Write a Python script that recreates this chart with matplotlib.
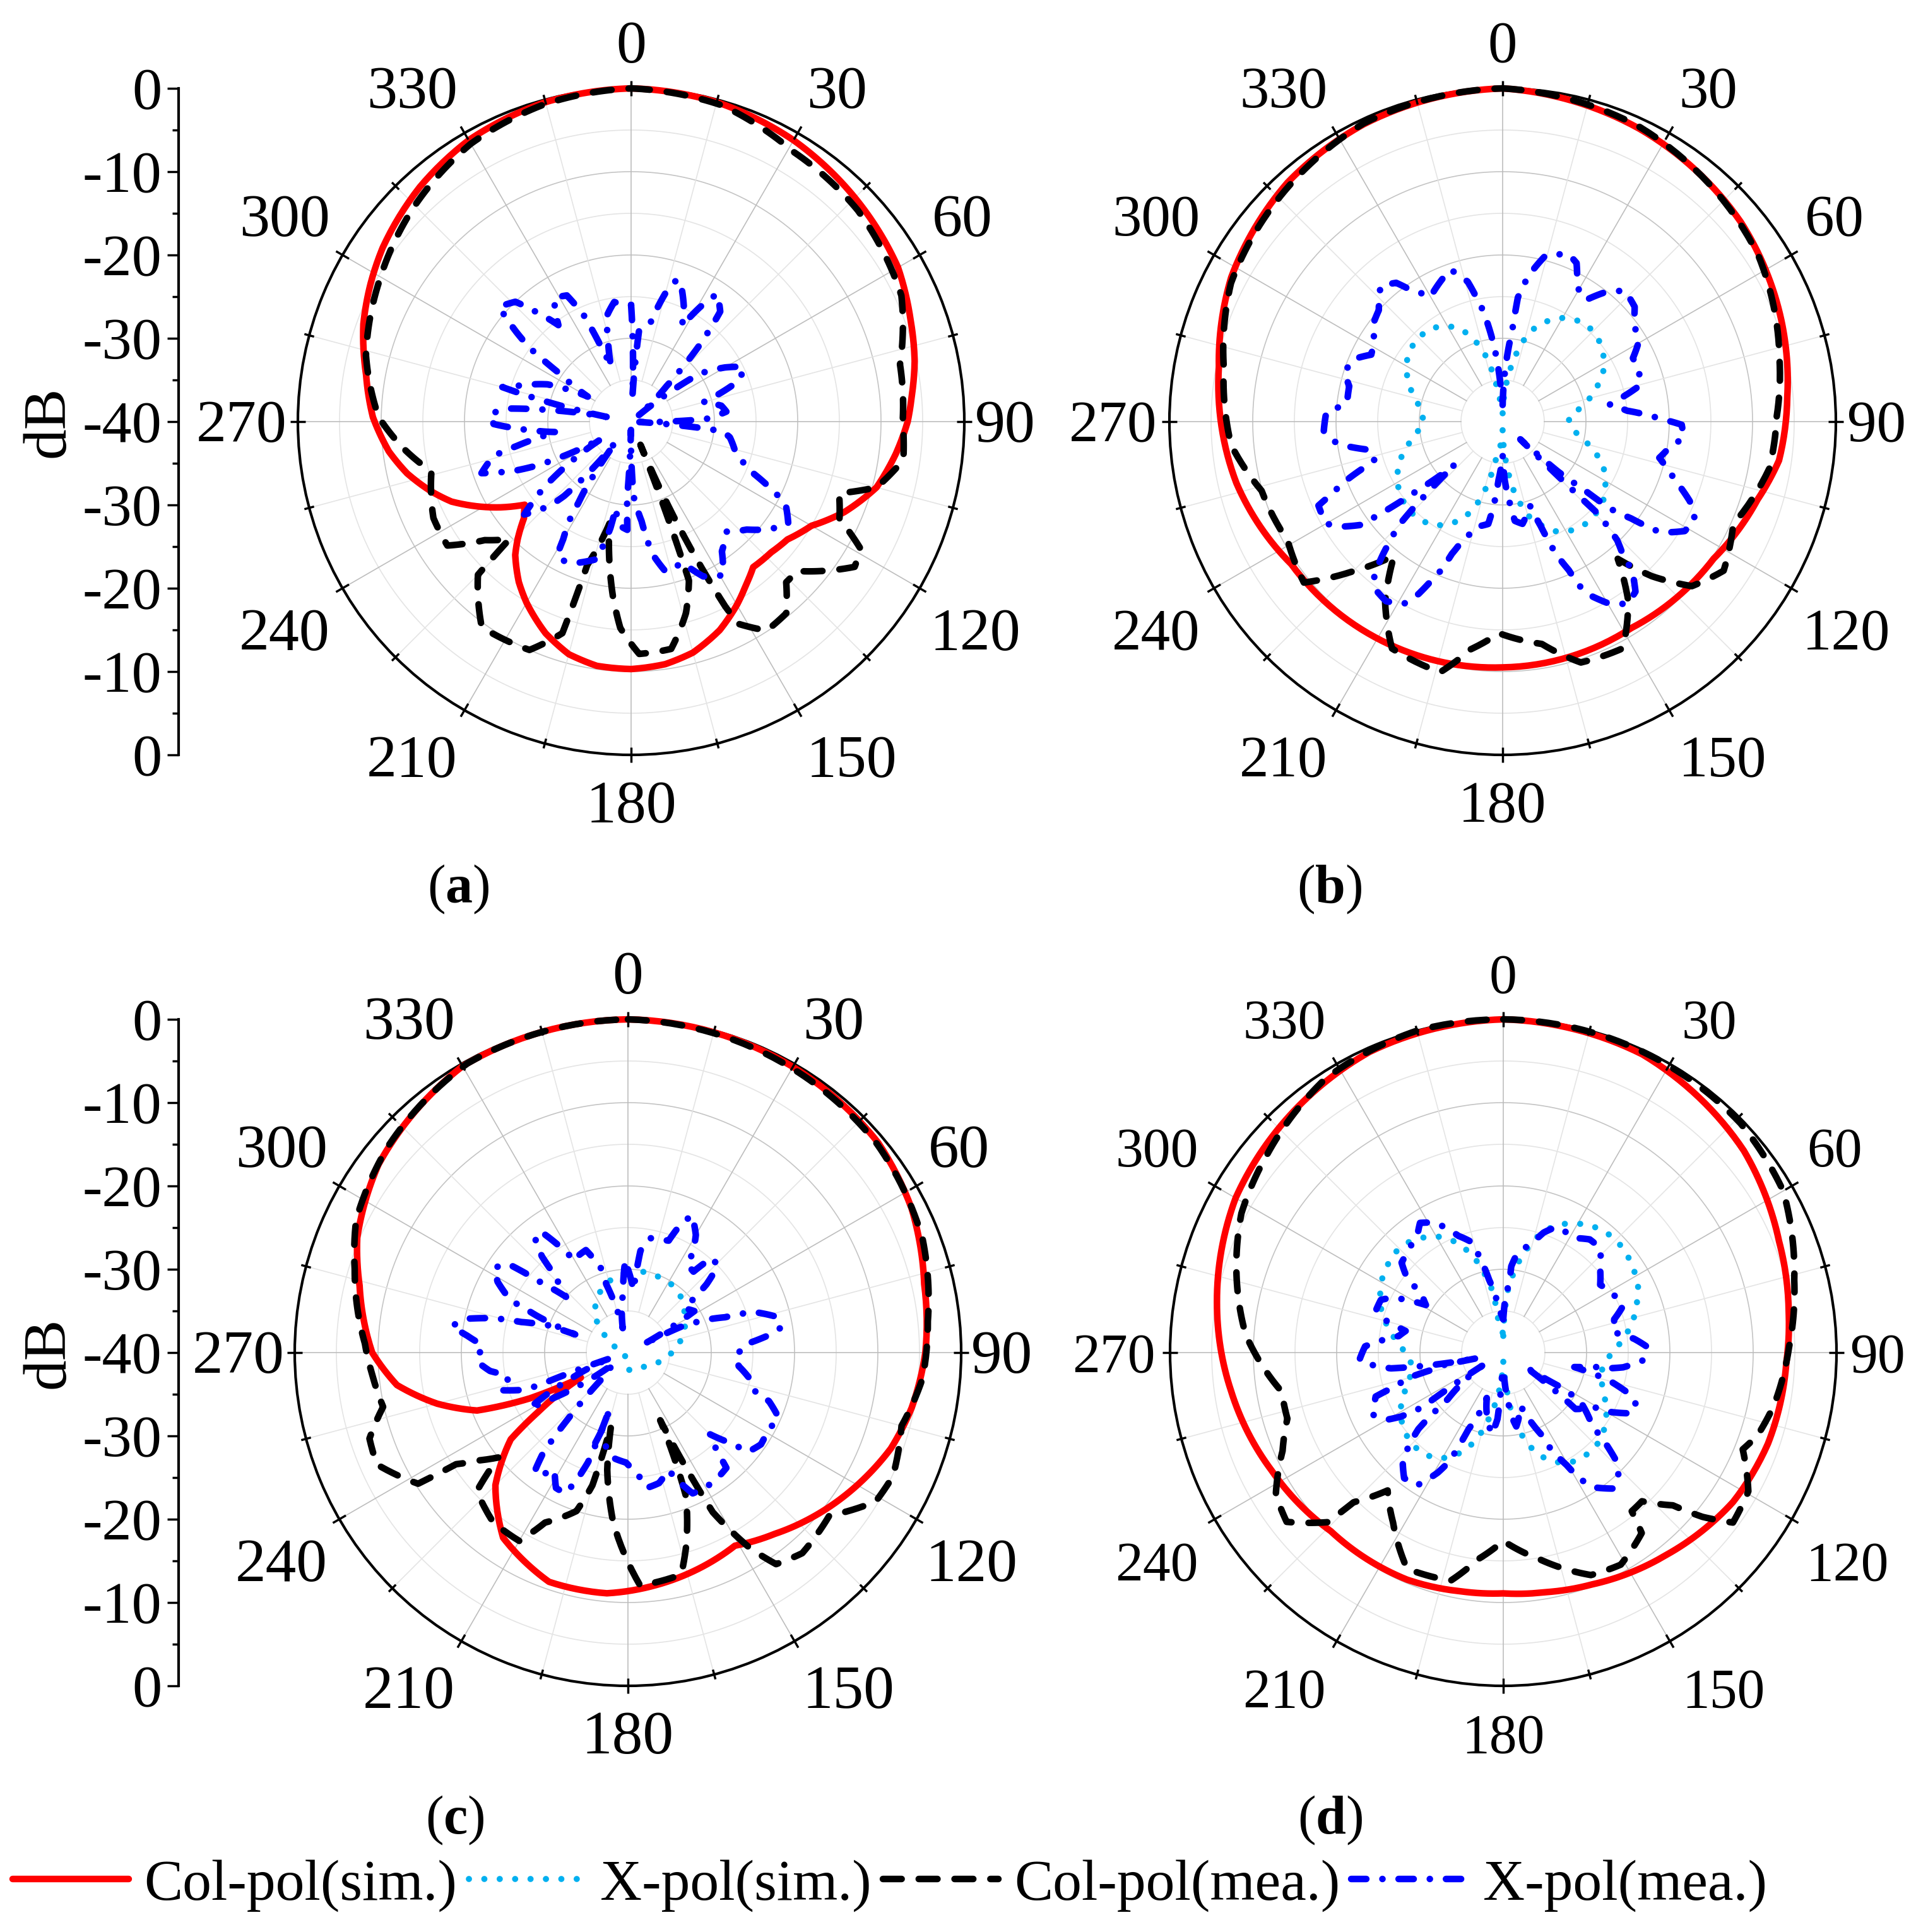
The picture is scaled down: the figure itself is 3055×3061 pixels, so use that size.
import numpy as np
import matplotlib
matplotlib.use("Agg")
import matplotlib.pyplot as plt
from matplotlib.lines import Line2D

plt.rcParams['font.family'] = ['Liberation Serif', 'DejaVu Serif']
plt.rcParams['mathtext.fontset'] = 'custom'
plt.rcParams['mathtext.rm'] = 'Liberation Serif'
plt.rcParams['mathtext.bf'] = 'Liberation Serif:bold'

# Figure geometry (pixels)
W, H, DPI = 3055, 3061, 100
R = 528  # polar radius in px

# ---- data: (angle in degrees, level in dB) ----
# panel (a)
A_COL_SIM = [(0, 0), (15, -0.3), (30, -1), (45, -2), (60, -3), (70, -4.3), (78, -5.2), (85, -6.2),
             (90, -6.8), (97, -8), (105, -9.5), (113, -12.2), (120, -15), (127, -16.5), (133, -17),
             (140, -17.2), (145, -16), (150, -14.6), (157, -12.8), (165, -11.3), (172, -10.6),
             (180, -10.3), (188, -10.4), (195, -11.1), (202, -12.6), (210, -14.9), (215, -16.5),
             (221, -18.8), (224, -20.4), (228, -22.7), (232, -23.8), (237, -21.1), (241, -19),
             (246, -16.4), (251, -14.5), (257, -12.4), (263, -10.7), (271, -9), (280, -7.7),
             (290, -5.8), (298, -4.6), (305, -3.6), (318, -2.1), (330, -1), (345, -0.3), (360, 0)]
A_COL_MEA = [(0, 0), (16, -0.5), (31, -2.2), (47, -2.8), (65, -4.2), (78, -7), (90, -7.4), (98, -7),
             (105, -9.5), (109, -13.6), (115, -12.4), (119, -8.5), (123, -8), (127, -10.3),
             (132, -13.2), (136, -13.2), (141, -10.4), (147, -10.1), (152, -12.5), (153, -15.1),
             (158, -37), (160, -19.7), (164, -16.1), (170, -12.3), (178, -12.1), (183, -15.2),
             (186, -19), (192, -27.5), (197, -22), (198, -13.3), (204, -10), (216, -9.5), (225, -14),
             (226, -19.7), (231, -17.4), (236, -13.4), (244, -13.6), (256, -15.3), (263, -12.6),
             (271, -9.7), (284, -7.2), (299, -5.4), (315, -3.3), (330, -1.5), (345, -0.5), (360, 0)]
A_X_MEA = [(0, -26), (3, -37), (5, -29), (11, -28), (15, -24), (18, -22), (21, -23), (25, -25),
           (28, -27), (31, -24), (34, -21.5), (39, -23), (42, -28), (45, -34), (50, -39), (55, -30),
           (60, -27), (64, -25), (69, -26), (75, -31), (80, -29), (84, -28.5), (88, -31), (90, -36),
           (93, -39), (96, -29), (99, -28), (106, -27), (112, -25), (115, -22), (118, -19),
           (123, -17.5), (128, -19), (133, -21), (139, -22.5), (145, -21), (149, -18.5),
           (155, -19.5), (160, -22), (167, -21.5), (171, -24), (174, -28), (178, -31), (181, -39),
           (183, -31), (182, -27), (187, -27.5), (190, -29.5), (191, -27), (194, -23), (200, -22),
           (205, -21.4), (209, -21.7), (210, -23.7), (212, -26), (213, -28.4), (214, -30),
           (217, -37), (222, -28), (224, -26), (229, -23), (233, -27), (240, -36), (245, -27.5),
           (247, -25), (251, -21), (256, -23), (258, -26), (262, -31), (265, -28), (269, -23.5),
           (273, -23), (276, -25), (281, -37), (285, -24), (288, -26), (294, -29), (300, -34),
           (304, -29.5), (306, -25), (308, -22.5), (311, -19), (316, -20), (319, -22.5),
           (323, -25.5), (328, -22.5), (333, -23), (336, -26), (338, -30), (340, -33), (344, -30),
           (347, -27), (352, -25.5), (356, -26), (360, -26)]

# panel (b)
B_COL_SIM = [(0, 0), (25, -1.2), (50, -2.7), (70, -4.4), (85, -5.7), (98, -6.5), (107, -8),
             (123, -9.8), (148, -10.8), (180, -10.5), (207, -10), (236, -9.4), (257, -7.2),
             (281, -5.3), (298, -3.1), (318, -1.4), (335, -0.6), (360, 0)]
B_X_SIM = [(0, -39), (10.5, -32.2), (13.4, -30.5), (17, -28.7), (22.6, -27.1), (28.7, -25.8),
           (35.2, -25), (41.4, -24.6), (49, -24.8), (56.5, -25.5), (63, -26.4), (68.8, -27.7),
           (74.3, -29), (80.6, -30.7), (87.3, -32.1), (97, -31.5), (103, -29.9), (109, -28.1),
           (115, -26.6), (121, -25.6), (127.6, -24.7), (133.8, -24.3), (141, -24.2), (148.4, -24.6),
           (154.3, -25.4), (159.5, -26.7), (164, -28), (168, -30), (171, -31.7), (173.4, -33.6),
           (175.7, -35.5), (180, -39), (191.6, -34.8), (192.3, -32.9), (195, -31.2), (197.7, -29.4),
           (202, -27.5), (207.6, -26.1), (213.9, -25), (220.5, -24.6), (227, -24.5), (234.8, -24.9),
           (241.6, -25.6), (248.2, -26.6), (254, -27.8), (259.7, -29.1), (268, -30.5), (278, -30.3),
           (285.9, -28.9), (293, -27.7), (300, -26.6), (307, -26), (314, -25.7), (322.6, -25.9),
           (329.7, -26.7), (335.7, -27.8), (340, -29.3), (344.4, -31.1), (347.4, -33.1),
           (349.7, -35), (352, -37), (360, -39)]
B_COL_MEA = [(0, 0), (25, -1), (57, -3.4), (77, -5.9), (89, -7.1), (100, -7.5), (114, -9.7),
             (124, -8), (131, -9.9), (136, -14.2), (140, -18.5), (145, -13.7), (152, -9.2),
             (162, -9.6), (170, -12.9), (181, -14.6), (188, -12.4), (194, -9), (206, -9.7),
             (213, -14.1), (219, -19.3), (225, -14.6), (231, -9.3), (241, -10.5), (254, -9.9),
             (265, -7.3), (281, -5.9), (297, -3.4), (318, -1.8), (335, -0.5), (360, 0)]
B_X_MEA = [(0, -38), (4, -32), (6, -29), (7, -25), (10, -22.3), (12, -21), (14.5, -19.4),
           (21.5, -18.4), (25, -19), (27, -20.3), (31, -22.2), (35, -22), (38, -20.4), (43, -18.5),
           (49, -19), (53, -20.3), (60, -21.2), (64, -22.6), (70, -22.6), (75, -22.8), (78, -25),
           (81, -27), (85, -25), (87, -23), (89, -21), (91, -18.5), (95, -18.2), (99, -19.8),
           (103, -20.7), (107, -19), (110, -17.4), (113, -15.6), (117, -14.1), (121, -14.5),
           (125, -16.8), (126, -18.6), (127, -20.7), (129, -23.4), (129.5, -25.4), (130, -27.6),
           (132, -31), (133, -34), (135, -37), (134, -24), (136, -20.2), (138, -18.4), (139, -16.3),
           (142, -14.1), (145.5, -13.5), (149.5, -14.6), (153, -16.5), (155, -18.3), (156, -20.5),
           (158, -22.8), (159, -24.7), (160, -26.7), (162, -29.4), (169, -27.5), (173, -28),
           (175, -30.2), (178, -33), (180, -36), (184, -33), (186, -30), (188, -27.6), (194, -27),
           (199, -24.7), (201, -23), (202.5, -20.7), (204.5, -18.7), (206, -17), (208.5, -15.1),
           (213, -14.3), (217, -14.7), (220, -16), (222, -18.5), (223.5, -20.5), (225, -22.3),
           (226, -25.3), (226.5, -27.3), (228, -32.3), (231, -27), (233, -21.6), (234, -18.9),
           (236.5, -17.2), (240, -15.5), (245.5, -15.7), (247, -17.7), (249, -19.5),
           (251.5, -22.3), (253.5, -24), (258, -23.7), (261, -21.1), (263.5, -19.5), (267, -18.5),
           (273, -18.8), (274, -19.7), (277, -21.2), (283, -21.1), (287.5, -20.1), (293, -20.7),
           (297, -22.3), (302, -21.9), (306.5, -20.6), (312, -20), (318, -18.1), (322.5, -19),
           (325, -20.7), (330, -22.7), (335.5, -21.7), (341, -20.7), (346, -22.7), (348, -24.7),
           (350, -26.5), (352.5, -29.6), (354, -31.6), (357, -36), (360, -38)]

# panel (c)
C_COL_SIM = [(0, 0), (30, -0.4), (50, -0.8), (63, -1.8), (77, -3.5), (90, -4.3), (101, -5.3),
             (110, -6.4), (125, -9.1), (141, -12), (151, -13.5), (162, -12.7), (173, -11.9),
             (185, -11), (199, -10.9), (214, -13.2), (225, -17.5), (233.5, -22.5), (236.5, -27),
             (242, -33.6), (245, -27), (249, -20.6), (255, -16.3), (262, -12), (270, -9.3),
             (284, -6.8), (293, -4.7), (307, -2.5), (330, -0.3), (360, 0)]
C_X_SIM = [(0, -30.3), (13, -30.1), (23, -30.2), (33, -30.3), (44, -30.8), (55, -31.7), (67, -32.6),
           (78, -33.6), (93, -35), (112, -36.5), (133, -37.5), (175, -37.9), (220, -39.5),
           (270, -39.5), (297, -38.1), (308, -36.3), (317, -34.3), (327, -32.9), (338, -31.7),
           (350, -30.8), (360, -30.3)]
C_COL_MEA = [(0, 0), (30, -0.6), (50, -1), (69, -2.1), (84, -3.8), (95, -4.5), (105, -6),
             (115, -4.9), (121, -5.3), (129, -8.9), (139, -8.1), (145, -9), (148, -12.3),
             (152, -18.3), (154.5, -31), (158, -21.4), (163, -16), (166.5, -12.6), (177, -12),
             (185, -19.6), (190, -25.7), (193, -31), (195, -23.5), (198, -20), (206, -17.3),
             (210, -13.9), (218.5, -14), (227.5, -15.4), (231, -20), (234, -18), (237, -15.4),
             (238, -10.3), (246, -7), (251.6, -7.3), (257.5, -9.9), (265, -9.2), (272, -8.4),
             (287, -5.7), (296, -3.7), (311, -2), (331, -0.3), (360, 0)]
C_X_MEA = [(0, -30), (5, -32.5), (7, -27.7), (11, -26), (15, -26), (20, -25.7), (22, -23.7),
           (25, -21.8), (30, -23.7), (33, -25.7), (34, -27.3), (39, -27.5), (41.5, -24.8), (46, -25),
           (49, -27.5), (50.5, -29.6), (52, -31.4), (58, -30.6), (62, -38), (64, -33), (67, -30),
           (70, -27.6), (71, -25.8), (72, -24.2), (76, -21.9), (80.6, -21.3), (83, -23), (86, -25.9),
           (92, -27.1), (97, -26.6), (102.6, -24.9), (107.5, -23.9), (109, -22.1), (113.6, -20.2),
           (118.5, -20.8), (124.6, -20.6), (129.6, -21.3), (131, -23.3), (135, -26.2), (138, -24),
           (139.5, -21.8), (144.6, -21.5), (150.6, -21.3), (155.3, -21.4), (158, -23.1),
           (161, -25.1), (166.6, -23.9), (172, -23.6), (175.6, -25.5), (181, -26.8), (189, -27.3),
           (195, -28.9), (200, -28.3), (198, -31), (198, -33), (200, -26), (202, -23.4),
           (204, -21.5), (208, -21.6), (212, -23.4), (215, -22.2), (218, -21.7), (220, -24),
           (221, -26.2), (222, -29), (225, -36), (232, -38), (239, -29), (240.6, -26.4), (246, -33),
           (252, -38), (250, -29.4), (250, -27), (253.5, -24.1), (256, -25.2), (259.6, -25.2),
           (262.4, -23.3), (266.5, -21.9), (273, -22.5), (276, -20.6), (278.6, -18.6), (282, -20.4),
           (283.6, -22.4), (285, -24.5), (286, -26.7), (289, -30), (289, -33.3), (292, -28.2),
           (293.3, -26.4), (294, -24.6), (298.5, -22.2), (302.4, -21), (306.5, -22.1), (308, -24.9),
           (309, -26.8), (312, -30), (315, -28.4), (317, -26.5), (318.2, -24.5), (321.3, -22),
           (324.8, -22.6), (327, -24.6), (330, -27.3), (333.5, -26.9), (337.7, -26.7),
           (342.8, -29.7), (342.4, -31.4), (348, -37), (355, -33), (358, -29.3), (360, -30)]

# panel (d)
D_COL_SIM = [(0, 0), (25, -0.5), (50, -2.3), (68, -4.3), (82, -5.4), (92, -6), (109, -6.4),
             (123, -7.1), (141, -8.8), (159, -10.2), (170, -10.8), (180, -11.1), (190, -10.9),
             (203, -10.4), (224, -10.2), (243, -8.8), (262, -7), (280, -5.1), (300, -2.9),
             (318, -1.7), (336, -0.5), (360, 0)]
D_X_SIM = [(0, -38), (3.9, -32.7), (9.2, -29.2), (15.4, -25.9), (20, -24.2), (24.8, -23),
           (30.1, -22.1), (35.5, -21.4), (41, -21), (46.6, -20.9), (52.3, -21.1), (58.3, -21.5),
           (64, -22), (69.7, -22.9), (75.2, -23.8), (80.7, -24.9), (85.7, -26), (92.2, -27.3),
           (101.4, -28.1), (109.5, -27.4), (116.3, -26.3), (122.7, -25.3), (129, -24.6), (135, -24.2),
           (142.5, -24.2), (149.8, -24.6), (155.6, -25.7), (160.5, -26.9), (164.9, -28.6),
           (168.5, -30.5), (171.7, -32.3), (173.5, -34.3), (175, -36.1), (180, -39), (187.8, -34.5),
           (190.8, -32.7), (193.8, -31), (196.7, -29.3), (201.2, -27.5), (206.9, -25.9), (213, -24.9),
           (219.3, -24.5), (226.1, -24.5), (233.4, -25), (240.5, -25.8), (246.4, -26.9),
           (253.8, -28.3), (262, -29), (270, -28.3), (276.7, -27), (283, -25.7), (289.2, -24.5),
           (294.9, -23.7), (301, -23), (306.8, -22.6), (312.3, -22.3), (319, -22.5), (325.3, -23.2),
           (331, -24.1), (335.8, -25.3), (339.8, -26.7), (343.7, -28.5), (346.7, -30.3),
           (349.8, -32.3), (351.1, -34.2), (351.3, -36.1), (360, -38)]
D_COL_MEA = [(0, 0), (25, -0.2), (46, -0.4), (60, -1.2), (76, -4), (89, -5.7), (101, -6.9),
             (108, -7.9), (112, -9), (119.5, -6.2), (126.5, -5.7), (129.5, -9), (132, -12.6),
             (137, -15.6), (141, -15.5), (142.5, -12.7), (151, -10.9), (158.5, -11.3), (170, -14.8),
             (180, -17.4), (187, -15), (193, -11.9), (204, -11.6), (213, -15.7), (220, -18.4),
             (225, -14.6), (226, -10.7), (232, -7), (238, -7.8), (246, -11), (253, -12.9),
             (260, -13), (267, -11), (274, -9), (287, -6.5), (298, -4.4), (310, -3), (327, -0.8),
             (345, 0), (360, 0)]
D_X_MEA = [(0, -36), (2, -33.7), (5, -31.5), (5.3, -29.6), (8, -28), (15, -26.4), (18.6, -24.8),
           (23, -23.6), (32, -23.8), (37.4, -22.9), (43, -22.9), (49, -24.6), (55, -25.8),
           (60.6, -25.2), (68.5, -24.5), (73.3, -26.1), (79.5, -26.6), (84, -24.2), (87.5, -22.8),
           (93, -23.1), (97, -25.5), (98.3, -27), (99, -29.2), (101.5, -31.3), (104.6, -27),
           (108, -24.2), (111.3, -22.9), (115.4, -23), (119, -25.3), (121, -27.3), (128, -29),
           (126, -33), (123, -37), (121, -32), (122, -29.2), (129.6, -26.1), (131, -24.2),
           (133.7, -21.3), (136.6, -19.9), (141, -19), (146.4, -20.6), (149, -22.5), (150.6, -24.5),
           (153.7, -27), (155.2, -29.2), (158.3, -31.1), (162, -33.3), (170, -31), (172, -32),
           (178, -37), (183, -37), (185, -32), (188, -30.1), (196, -32.7), (200, -34.2),
           (201.7, -32.1), (204.4, -29.9), (205.4, -27.5), (206.4, -25.4), (208.6, -23.6),
           (213, -21), (218.3, -20.8), (222.4, -22.1), (225.6, -24.2), (228, -26.3), (229, -28.4),
           (230, -31.3), (238, -37), (236, -28.3), (238, -25.5), (240, -23.9), (244.4, -22.7),
           (251, -23.8), (252.6, -26.4), (255.2, -28.4), (256.5, -31.3), (258.4, -32.9),
           (258, -37), (262, -26.4), (264, -24.6), (267, -22.7), (272.6, -23.4), (274.5, -24.6),
           (279, -27.3), (282.5, -28), (285.3, -25.4), (288.4, -23.9), (293.3, -24), (296.5, -25.2),
           (301.6, -29.1), (305.5, -28), (308, -25.3), (311.5, -23.7), (316, -23.4), (324, -22.5),
           (327.3, -21.5), (332.4, -22.4), (339, -25), (344, -26.2), (346, -28.1), (349, -31.1),
           (355, -35), (360, -36)]

LEGEND_LABELS = ['Col-pol(sim.)', 'X-pol(sim.)', 'Col-pol(mea.)', 'X-pol(mea.)']
ANGLE_TICKS = list(range(0, 360, 30))
DB_TICKS = list(range(-40, 41, 10))

# where the angle labels sit, px offset from the polar centre (dx right, dy down)
LABEL_OFFSETS = {0: (0, -601), 30: (326, -529), 60: (525, -326), 90: (593, 0),
                 120: (545, 330), 150: (349, 531), 180: (0, 603), 210: (-347, 531),
                 240: (-549, 330), 270: (-617, 0), 300: (-549, -326), 330: (-347, -529)}

STYLES = [
    dict(color='#ff0000', lw=7.5, ls='-', solid_capstyle='round'),
    dict(color='#00b0f0', lw=7.0, ls=(0, (0.01, 2.5)), dash_capstyle='round'),
    dict(color='#000000', lw=7.5, ls=(0, (2.85, 2.6)), dash_capstyle='round'),
    dict(color='#0000ff', lw=7.5, ls=(0, (2.3, 2.45, 0.01, 2.45)), dash_capstyle='round'),
]

PANELS = [
    # centre x, centre y (px), tag, curves in legend order, left dB axis, label size
    (1000, 668, 'a', [A_COL_SIM, None, A_COL_MEA, A_X_MEA], True, 69),
    (2381, 668, 'b', [B_COL_SIM, B_X_SIM, B_COL_MEA, B_X_MEA], False, 67),
    (995, 2143, 'c', [C_COL_SIM, C_X_SIM, C_COL_MEA, C_X_MEA], True, 70),
    (2382, 2143, 'd', [D_COL_SIM, D_X_SIM, D_COL_MEA, D_X_MEA], False, 63),
]

fig = plt.figure(figsize=(W / DPI, H / DPI), dpi=DPI)
fig.patch.set_facecolor('white')

ring = np.linspace(0, 2 * np.pi, 721)

for cx, cy, tag, curves, with_db, fs in PANELS:
    left = (cx - R) / W
    bottom = (H - cy - R) / H
    ax = fig.add_axes([left, bottom, 2 * R / W, 2 * R / H], projection='polar')
    ax.set_theta_zero_location('N')
    ax.set_theta_direction(-1)
    ax.set_ylim(-40, 0)
    ax.set_xticks([])
    ax.set_yticks([])
    ax.grid(False)
    ax.spines['polar'].set_linewidth(3.0)
    ax.spines['polar'].set_color('black')

    # grid rings and spokes
    for rr in range(-35, 0, 5):
        col = '#c4c4c4' if rr % 10 == 0 else '#e4e4e4'
        ax.plot(ring, np.full_like(ring, rr), color=col, lw=1.2, zorder=1)
    for deg in range(0, 360, 15):
        col = '#bdbdbd' if deg % 30 == 0 else '#e4e4e4'
        ax.plot([np.deg2rad(deg)] * 2, [-35, 0], color=col, lw=1.2, zorder=1)
        tl = 0.9 if deg % 30 == 0 else 0.6
        ax.plot([np.deg2rad(deg)] * 2, [-tl, tl], color='black', lw=2.5, zorder=5,
                clip_on=False, solid_capstyle='butt')

    # angle labels
    for deg in ANGLE_TICKS:
        dx, dy = LABEL_OFFSETS[deg]
        ax.text(0.5 + dx / (2 * R), 0.5 - (dy + 9) / (2 * R), str(deg), transform=ax.transAxes,
                ha='center', va='center', fontsize=fs, clip_on=False)

    # curves
    for pts, st in zip(curves, STYLES):
        if pts is None:
            continue
        th = np.deg2rad([p[0] for p in pts])
        rv = [p[1] for p in pts]
        line, = ax.plot(th, rv, zorder=3, clip_on=False, **st)
        line.get_path()._interpolation_steps = 16

    # panel label
    fig.text((cx - 274) / W, 1 - (cy + 741) / H, r'($\mathbf{' + tag + '}$)',
             ha='center', va='center', fontsize=62)

    if with_db:
        axd = fig.add_axes([283 / W, bottom, 0.0005, 2 * R / H])
        axd.set_ylim(-40, 40)
        for s in ['top', 'right', 'bottom']:
            axd.spines[s].set_visible(False)
        axd.spines['left'].set_linewidth(3.0)
        axd.set_xticks([])
        axd.set_yticks(DB_TICKS)
        axd.set_yticklabels([f"{abs(t) - 40:d}" for t in DB_TICKS])
        axd.set_yticks(list(range(-35, 40, 10)), minor=True)
        axd.tick_params(axis='y', which='major', length=13, width=2.5, labelsize=68, pad=6)
        axd.tick_params(axis='y', which='minor', length=7, width=2.5)
        axd.patch.set_visible(False)
        fig.text(78 / W, 1 - cy / H, 'dB', rotation=90, ha='center', va='center', fontsize=70)

handles = [Line2D([0], [0], **st) for st in STYLES]
fig.legend(handles, LEGEND_LABELS, ncol=4, loc='center', bbox_to_anchor=(1410 / W, 74 / H),
           frameon=False, fontsize=66, handlelength=2.0, handletextpad=0.27, columnspacing=0.2)

fig.savefig('out.png', dpi=DPI, facecolor='white')
